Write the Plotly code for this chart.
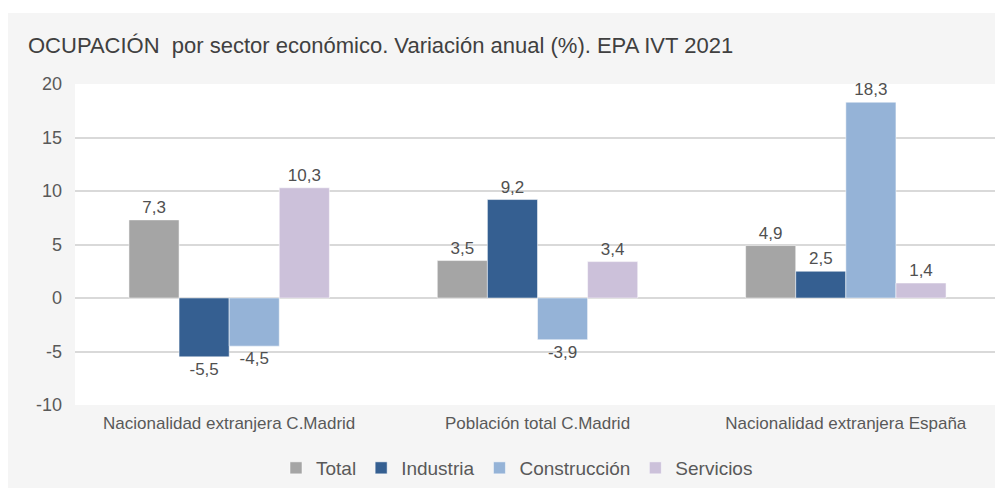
import plotly.graph_objects as go

categories = ["Nacionalidad extranjera C.Madrid", "Población total C.Madrid", "Nacionalidad extranjera España"]
series_names = ["Total", "Industria", "Construcción", "Servicios"]
total = [7.3, 3.5, 4.9]
industria = [-5.5, 9.2, 2.5]
construccion = [-4.5, -3.9, 18.3]
servicios = [10.3, 3.4, 1.4]
y_ticks = [-10, -5, 0, 5, 10, 15, 20]
colors = ["#a5a5a5", "#355f91", "#95b3d7", "#ccc1da"]

# the page body adds an 8px margin, so the figure itself is 995x482
W, H = 995, 482
ml, mr, mt, mb = 67, 3, 76, 85
pw, ph = W - ml - mr, H - mt - mb


def px(x):
    return (x - ml) / pw


def py(y):
    return 1 - (y - mt) / ph


fig = go.Figure()
for name, vals, col in zip(series_names, [total, industria, construccion, servicios], colors):
    fig.add_trace(go.Bar(
        x=categories, y=vals, name=name,
        marker=dict(color=col, line=dict(color="rgba(255,255,255,0.5)", width=1)),
        text=[f"{v:.1f}".replace(".", ",") for v in vals],
        textposition="outside", cliponaxis=False,
        textfont=dict(size=17, color="#505050"),
    ))

# white strips top and bottom of the grey card
fig.add_shape(type="rect", xref="paper", yref="paper", layer="below",
              x0=px(0), x1=px(W), y0=py(5), y1=py(0),
              fillcolor="white", line=dict(width=0))
fig.add_shape(type="rect", xref="paper", yref="paper", layer="below",
              x0=px(0), x1=px(W), y0=py(H), y1=py(480),
              fillcolor="white", line=dict(width=0))

fig.update_layout(
    width=W, height=H,
    margin=dict(l=ml, r=mr, t=mt, b=mb),
    paper_bgcolor="#f5f5f5", plot_bgcolor="white",
    font=dict(family="Liberation Sans, Arial, sans-serif", color="#595959"),
    title=dict(text="OCUPACIÓN  por sector económico. Variación anual (%). EPA IVT 2021",
               x=20 / W, xanchor="left", y=1 - 37 / H, yanchor="middle",
               font=dict(size=22, color="#404040")),
    barmode="group", bargap=0.35, bargroupgap=0,
    showlegend=True,
    legend=dict(orientation="h", x=px(509), xanchor="center", y=py(460), yanchor="middle",
                font=dict(size=19, color="#595959"), bgcolor="rgba(0,0,0,0)",
                itemwidth=30, tracegroupgap=0),
)
fig.update_yaxes(range=[-10, 20], tickvals=y_ticks, ticktext=[str(t) for t in y_ticks],
                 showgrid=True, gridcolor="#d9d9d9", gridwidth=1.5,
                 zeroline=True, zerolinecolor="#d9d9d9", zerolinewidth=1.5,
                 tickfont=dict(size=18, color="#595959"), ticks="", ticklabelstandoff=12,
                 showline=False, fixedrange=True)
fig.update_xaxes(tickfont=dict(size=17, color="#595959"), showline=False, ticks="",
                 ticklabelstandoff=6, fixedrange=True)

fig.write_html("out.html")
